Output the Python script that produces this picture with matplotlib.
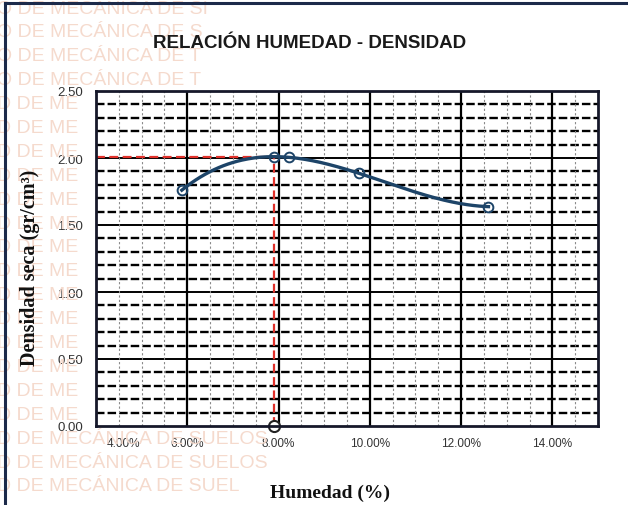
import numpy as np
import matplotlib
matplotlib.use("Agg")
import matplotlib.pyplot as plt
import matplotlib.transforms as mtransforms
from matplotlib.lines import Line2D

# ensayo proctor: humedad (%) vs densidad seca (gr/cm3)
humedad = [5.88, 8.23, 9.76, 12.60]
densidad = [1.76, 2.005, 1.886, 1.637]

x_ticks = [4, 6, 8, 10, 12, 14]
x_labels = ["4.00%", "6.00%", "8.00%", "10.00%", "12.00%", "14.00%"]
y_ticks = [0.0, 0.5, 1.0, 1.5, 2.0, 2.5]
y_labels = ["0.00", "0.50", "1.00", "1.50", "2.00", "2.50"]

marca_agua = ["O DE MECÁNICA DE SI", "O DE MECÁNICA DE S", "O DE MECÁNICA DE T",
              "O DE MECÁNICA DE T"] + ["D DE ME"] * 14 + \
             ["D DE MECÁNICA DE SUELOS", "D DE MECÁNICA DE SUELOS", "D DE MECÁNICA DE SUEL"]

XMIN, XMAX, YMIN, YMAX = 4, 15, 0, 2.5

# linea de tendencia polinomica (grado 3) y su maximo
coef = np.polyfit(humedad, densidad, 3)
raices = np.roots(np.polyder(coef))
raices = raices[np.isreal(raices)].real
raices = raices[(raices > min(humedad)) & (raices < max(humedad))]
w_opt = raices[np.argmax(np.polyval(coef, raices))]
d_max = np.polyval(coef, w_opt)

fig = plt.figure(figsize=(6.28, 5.06), dpi=100, facecolor="white")

# marca de agua del laboratorio
for i, txt in enumerate(marca_agua):
    fig.text(-0.004, 1 - (9 + i * 23.9) / 506, txt, fontsize=14, color="#f5dacd",
             family="Liberation Sans", va="center", ha="left", zorder=0)

ax = fig.add_axes([96 / 628, 1 - 427 / 506, 502 / 628, 335 / 506])
ax.set_facecolor("none")
ax.set_xlim(XMIN, XMAX)
ax.set_ylim(YMIN, YMAX)

# cuadricula
for y in np.arange(0.1, 2.5, 0.1):
    if abs(y / 0.5 - round(y / 0.5)) < 1e-6:
        ax.axhline(y, color="black", lw=1.4, zorder=1)
    else:
        ax.axhline(y, color="black", lw=1.7, ls=(0, (3.6, 1.3)), zorder=1)
for x in np.arange(4.5, 15, 0.5):
    if abs(x / 2 - round(x / 2)) < 1e-6:
        ax.axvline(x, color="black", lw=1.6, zorder=1)
    else:
        ax.axvline(x, color="#8a8a8a", lw=0.8, ls=(0, (2, 2)), zorder=1)

# lineas al optimo
ax.plot([XMIN, w_opt], [d_max, d_max], color="#e0302a", lw=1.6, ls=(0, (4, 2)), zorder=3)
ax.plot([w_opt, w_opt], [0, d_max], color="#e0302a", lw=1.6, ls=(0, (4, 2)), zorder=3)
ax.plot([w_opt], [0], marker="o", ms=8, mfc="white", mec="#222222", mew=1.5,
        clip_on=False, zorder=5)

xs = np.linspace(min(humedad), max(humedad), 200)
ax.plot(xs, np.polyval(coef, xs), color="#1d4468", lw=2.4, zorder=4)
ax.plot(humedad + [w_opt], densidad + [d_max], ls="none", marker="o", ms=7, mfc="none",
        mec="#1d4468", mew=1.4, zorder=5)

ax.set_xticks(x_ticks)
ax.set_xticklabels(x_labels, fontsize=8.5, color="#333333", family="Liberation Sans")
ax.set_yticks(y_ticks)
ax.set_yticklabels(y_labels, fontsize=9.5, color="#333333", family="Liberation Sans")
ax.tick_params(axis="both", length=0)
ax.tick_params(axis="x", pad=8)
ax.tick_params(axis="y", pad=9)
lbl0 = ax.get_xticklabels()[0]
lbl0.set_transform(lbl0.get_transform() + mtransforms.ScaledTranslation(0.27, 0, fig.dpi_scale_trans))

for s in ax.spines.values():
    s.set_linewidth(2.0)
    s.set_color("#16182a")
    s.set_zorder(6)

fig.text(310 / 628, 1 - 43 / 506, "RELACIÓN HUMEDAD - DENSIDAD", fontsize=13.5,
         fontweight="bold", family="Liberation Sans", ha="center", va="center",
         color="#1a1a1a")
fig.text(330 / 628, 1 - 493 / 506, "Humedad (%)", fontsize=14, fontweight="bold",
         family="Liberation Serif", ha="center", va="center", color="#111111")
fig.text(30 / 628, 1 - 268 / 506, "Densidad seca (gr/cm³)", fontsize=14.5,
         fontweight="bold", family="Liberation Serif", rotation=90,
         ha="center", va="center", color="#111111")

# marco exterior
fig.add_artist(Line2D([5 / 628, 5 / 628], [0, 1 - 4 / 506], color="#1c2a4a", lw=2.2))
fig.add_artist(Line2D([5 / 628, 1], [1 - 4 / 506, 1 - 4 / 506], color="#1c2a4a", lw=2.2))

fig.savefig("out.png", dpi=100, facecolor="white")
